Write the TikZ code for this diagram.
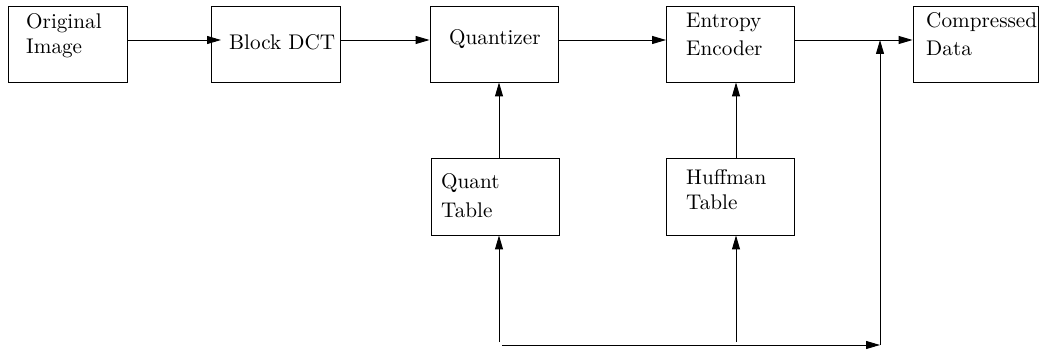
\documentclass[tikz,border=0pt]{standalone}
\usepackage{fontspec}
\newfontfamily\lmten{lmroman10-regular.otf}
\usetikzlibrary{arrows.meta}
\begin{document}
\begin{tikzpicture}[x=1pt,y=-1pt,
  blk/.style={draw,line width=0.9pt,inner sep=0pt,minimum width=#1,minimum height=76pt},
  blk/.default=128pt,
  lbl/.style={anchor=base west,inner sep=0pt,font=\lmten\fontsize{21.2}{25}\selectfont},
  flow/.style={line width=0.9pt,-{Triangle[length=14pt,width=8pt]}}]
\useasboundingbox (0,0) rectangle (1043,352);

% blocks
\node[blk=119pt] (orig) at (67.5,44) {};
\node[blk=129pt] (dct) at (275.5,44) {};
\node[blk] (quant) at (494,44) {};
\node[blk] (enc) at (730.5,44) {};
\node[blk=125pt] (comp) at (975.5,44) {};
\node[blk,minimum height=77pt] (qtab) at (495.5,196.5) {};
\node[blk,minimum height=77pt] (htab) at (730.5,196.5) {};

% labels
\node[lbl] (origA) at (26,29) {Original};
\node[lbl] (origB) at (26,54) {Image};
\node[lbl] (dctA) at (229,50) {Block DCT};
\node[lbl] (quantA) at (449,45) {Quantizer};
\node[lbl] (encA) at (686,28) {Entropy};
\node[lbl] (encB) at (686,56) {Encoder};
\node[lbl] (compA) at (926,28) {Compressed};
\node[lbl] (compB) at (926,56) {Data};
\node[lbl] (qtabA) at (441,189) {Quant};
\node[lbl] (qtabB) at (441,218) {Table};
\node[lbl] (htabA) at (686,185) {Huffman};
\node[lbl] (htabB) at (686,210) {Table};

% connection points
\coordinate (dctin) at (221,40);
\coordinate (join) at (880,40);
\coordinate (qfoot) at (499,342);
\coordinate (hfoot) at (736,342);
\coordinate (busL) at (502,345);
\coordinate (busR) at (880,345);

% main chain
\draw[flow] (orig.east |- dctin) -- (dctin);
\draw[flow] (dct.east |- dctin) -- (quant.west |- dctin);
\draw[flow] (quant.east |- dctin) -- (enc.west |- dctin);
\draw[flow] (enc.east |- dctin) -- (comp.west |- dctin);

% table inputs
\draw[flow] (qtab.north -| qfoot) -- (quant.south -| qfoot);
\draw[flow] (htab.north -| hfoot) -- (enc.south -| hfoot);
\draw[flow] (qfoot) -- (qtab.south -| qfoot);
\draw[flow] (hfoot) -- (htab.south -| hfoot);

% bottom bus
\draw[flow] (busL) -- (busR);
\draw[flow] (busR) -- (join);
\end{tikzpicture}
\end{document}
